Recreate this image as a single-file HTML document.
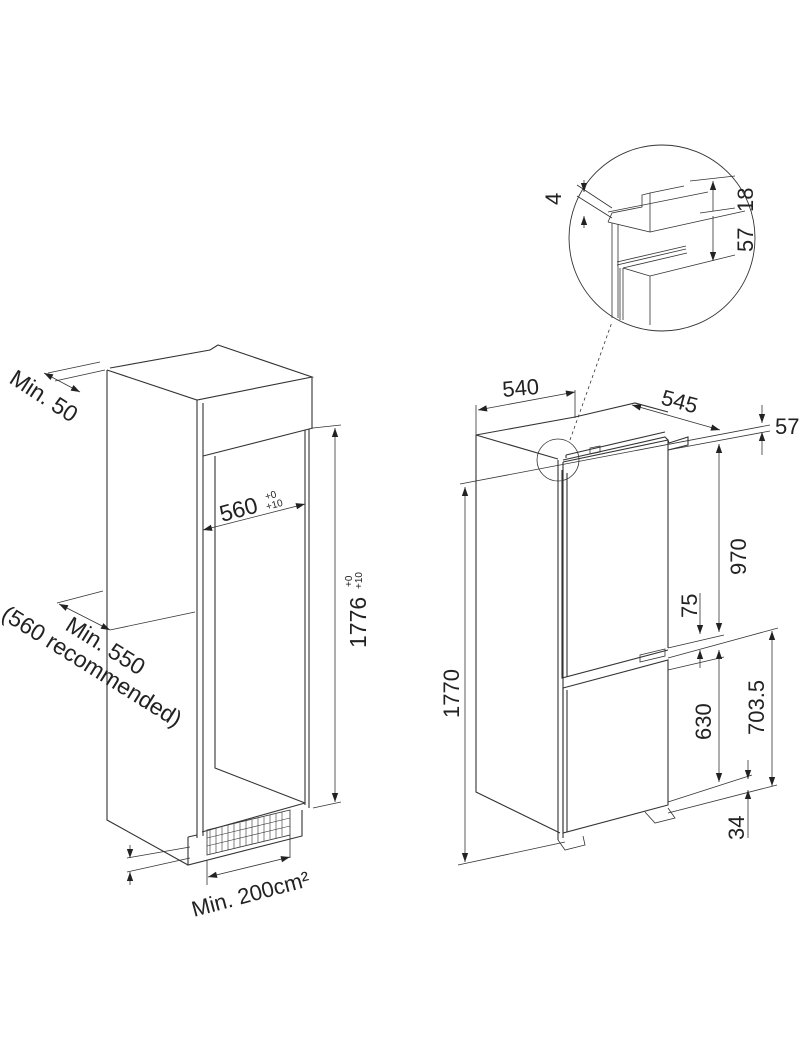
<!DOCTYPE html>
<html><head><meta charset="utf-8"><style>
html,body{margin:0;padding:0;background:#fff}
svg{display:block}
text{font-family:"Liberation Sans",sans-serif;fill:#222}
</style></head><body>
<svg width="800" height="1058" viewBox="0 0 800 1058" xmlns="http://www.w3.org/2000/svg">
<defs>
<marker id="a" viewBox="0 0 10 10" refX="10" refY="5" markerUnits="userSpaceOnUse" markerWidth="12" markerHeight="9" orient="auto-start-reverse"><path d="M0,1.5 L10,5 L0,8.5 z" fill="#222"/></marker>
</defs>
<g fill="none" stroke="#333" stroke-width="1.1">
<path d="M107,370 L107,820 L188,865"/>
<path d="M107,370 L197,400 L312,377 L218,345 L210,350 L110,368"/>
<path d="M197,400 L197,838 M203,403 L203,836"/>
<path d="M203,456 L313,428 M312,377 L312,428"/>
<path d="M215,456 L215,768 L305,803"/>
<path d="M305,430 L305,805 M309,429 L309,808"/>
<path d="M202,832 L305,803"/>
<path d="M188,837 L188,865 L302,836 L302,810"/>
<path d="M188,837 L197,835"/>
<path d="M207,830 L290,810 L290,835 L207,855 Z" stroke-width="0.8"/>
<g stroke-width="0.6">
<path d="M210,830 L210,854 M216,828 L216,853 M222,827 L222,851 M228,825 L228,850 M234,824 L234,848 M240,823 L240,847 M246,821 L246,845 M252,820 L252,844 M258,818 L258,842 M264,817 L264,841 M270,815 L270,839 M276,814 L276,838 M282,812 L282,836"/>
<path d="M207,838 L290,818 M207,846 L290,826"/>
</g>
<path d="M48,373 L100,362 M55,381 L105,370" stroke-width="0.8"/>
<path d="M44,373 L80,392" marker-start="url(#a)" marker-end="url(#a)" stroke-width="0.8"/>
<path d="M57,603 L103,591 M110,630 L195,612" stroke-width="0.8"/>
<path d="M59,604 L110,630" marker-start="url(#a)" marker-end="url(#a)" stroke-width="0.8"/>
<path d="M203,530 L305,504" marker-start="url(#a)" marker-end="url(#a)" stroke-width="0.8"/>
<path d="M313,428 L341,425 M313,808 L341,802" stroke-width="0.8"/>
<path d="M335,428 L335,802" marker-start="url(#a)" marker-end="url(#a)" stroke-width="0.8"/>
<path d="M207,860 L207,885 M290,835 L290,858" stroke-width="0.8"/>
<path d="M208,877 L290,857" marker-start="url(#a)" marker-end="url(#a)" stroke-width="0.8"/>
<path d="M127,858 L190,847 M127,872 L190,858" stroke-width="0.8"/>
<path d="M130,845 L130,858" marker-end="url(#a)" stroke-width="0.8"/>
<path d="M130,885 L130,872" marker-end="url(#a)" stroke-width="0.8"/>

<path d="M476,435 L476,792 L560,833"/>
<path d="M476,435 L575,417 L635,403 L668,412 M476,435 L558,459"/>
<path d="M558,460 L558,840 M563,462 L563,838"/>
<path d="M563,462 L668,440 L668,648 M668,440 L669,443 L688,437 L688,445 L668,450"/>
<path d="M562,470 L562,678 L668,650 M567,473 L567,677"/>
<path d="M563,460 L665,437 L668,440 M566,455 L665,432 M566,458 L566,455"/>
<path d="M563,688 L668,660 L668,805 L563,833 Z M567,690 L567,832"/>
<path d="M590,448 L600,446 L600,452 L590,454 Z M640,655 L665,649 L665,656 L640,662 Z" stroke-width="0.8"/>
<path d="M558,840 L565,850 L585,845 L583,836 M645,812 L655,823 L675,818 L668,808" stroke-width="0.8"/>
<circle cx="558" cy="460" r="21" stroke-width="0.8"/>
<path d="M570,440 L612,322" stroke-dasharray="3,3" stroke-width="0.8"/>
<circle cx="662" cy="238" r="93" stroke-width="0.9"/>
<path d="M608,212 L708,192 M608,222 L612,213 L642,207 L642,195 L650,193 L684,186 M650,193 L650,232 L608,222 M650,232 L745,211" stroke-width="0.8"/>
<path d="M612,223 L612,318 M618,224 L618,318 M617,262 L686,246 M617,265 L686,249 M620,268 L620,320 M623,268 L623,320 M623,268 L687,253 M623,268 L650,276 L650,325 M650,276 L735,255" stroke-width="0.8"/>
<path d="M577,185 L612,208 M577,196 L612,218" stroke-width="0.8"/>
<path d="M584,180 L584,192" marker-end="url(#a)" stroke-width="0.8"/>
<path d="M584,228 L584,216" marker-end="url(#a)" stroke-width="0.8"/>
<path d="M713,181 L713,211 M713,216 L713,261" marker-start="url(#a)" marker-end="url(#a)" stroke-width="0.8"/>
<path d="M690,181 L735,176 M700,213 L735,208" stroke-width="0.8"/>
<path d="M476,435 L476,405 M575,418 L575,390" stroke-width="0.8"/>
<path d="M478,410 L575,392" marker-start="url(#a)" marker-end="url(#a)" stroke-width="0.8"/>
<path d="M632,405 L720,430" marker-start="url(#a)" marker-end="url(#a)" stroke-width="0.8"/>
<path d="M460,484 L770,425 M668,450 L770,431" stroke-width="0.8"/>
<path d="M762,405 L762,423" marker-end="url(#a)" stroke-width="0.8"/>
<path d="M762,455 L762,432" marker-end="url(#a)" stroke-width="0.8"/>
<path d="M465,487 L465,862" marker-start="url(#a)" marker-end="url(#a)" stroke-width="0.8"/>
<path d="M458,865 L565,842" stroke-width="0.8"/>
<path d="M719,444 L719,632" marker-start="url(#a)" marker-end="url(#a)" stroke-width="0.8"/>
<path d="M668,648 L724,635 M668,658 L778,628 M668,670 L724,657" stroke-width="0.8"/>
<path d="M700,593 L700,634" marker-end="url(#a)" stroke-width="0.8"/>
<path d="M700,668 L700,650" marker-end="url(#a)" stroke-width="0.8"/>
<path d="M719,650 L719,782" marker-start="url(#a)" marker-end="url(#a)" stroke-width="0.8"/>
<path d="M772,631 L772,786" marker-start="url(#a)" marker-end="url(#a)" stroke-width="0.8"/>
<path d="M668,802 L752,775 M668,813 L777,785" stroke-width="0.8"/>
<path d="M748,760 L748,779" marker-end="url(#a)" stroke-width="0.8"/>
<path d="M748,838 L748,790" marker-end="url(#a)" stroke-width="0.8"/>
</g>
<text x="8" y="382" font-size="23" transform="rotate(33 8 382)">Min. 50</text>
<text x="64" y="629" font-size="23" transform="rotate(32 64 629)">Min. 550</text>
<text x="0" y="618" font-size="23" transform="rotate(32 0 618)">(560 recommended)</text>
<text x="222" y="522" font-size="23" transform="rotate(-15 222 522)">560</text>
<text x="266" y="500" font-size="10" transform="rotate(-15 266 500)">+0</text>
<text x="267" y="510" font-size="10" transform="rotate(-15 267 510)">+10</text>
<text x="366" y="648" font-size="23" transform="rotate(-90 366 648)">1776</text>
<text x="352" y="587" font-size="10" transform="rotate(-90 352 587)">+0</text>
<text x="362" y="589" font-size="10" transform="rotate(-90 362 589)">+10</text>
<text x="194" y="917" font-size="22" transform="rotate(-15 194 917)">Min. 200cm²</text>
<text x="503" y="397" font-size="22" transform="rotate(-5 503 397)">540</text>
<text x="660" y="404" font-size="22" transform="rotate(15 660 404)">545</text>
<text x="775" y="434" font-size="22">57</text>
<text x="746" y="575" font-size="22" transform="rotate(-90 746 575)">970</text>
<text x="697" y="618" font-size="22" transform="rotate(-90 697 618)">75</text>
<text x="711" y="740" font-size="22" transform="rotate(-90 711 740)">630</text>
<text x="764" y="735" font-size="22" transform="rotate(-90 764 735)">703.5</text>
<text x="744" y="840" font-size="22" transform="rotate(-90 744 840)">34</text>
<text x="459" y="718" font-size="22" transform="rotate(-90 459 718)">1770</text>
<text x="561" y="205" font-size="22" transform="rotate(-90 561 205)">4</text>
<text x="753" y="212" font-size="22" transform="rotate(-90 753 212)">18</text>
<text x="753" y="252" font-size="22" transform="rotate(-90 753 252)">57</text>
</svg>
</body></html>
